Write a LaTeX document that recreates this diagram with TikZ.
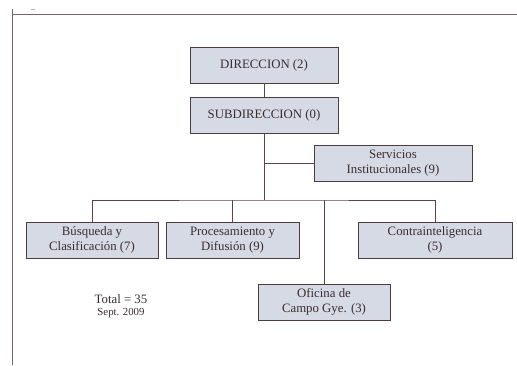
\documentclass[tikz,border=0pt]{standalone}
\usepackage{fontspec}
\setmainfont{Liberation Serif}
\definecolor{boxfill}{HTML}{D6DAE5}
\definecolor{boxline}{HTML}{4E3C40}
\definecolor{conline}{HTML}{5E424A}
\definecolor{frameline}{HTML}{7A636B}
\definecolor{txt}{HTML}{3A2C30}
\begin{document}
\begin{tikzpicture}[x=1pt,y=-1pt,
  unit/.style={draw=boxline, fill=boxfill, line width=0.9pt, rectangle, minimum height=36pt, inner sep=1pt, align=center, font=\fontsize{12.8}{14.3}\selectfont, text=txt},
  conn/.style={draw=conline, line width=0.9pt},
  note/.style={text=txt, inner sep=0pt}]
\useasboundingbox (0,0) rectangle (517,365);
% frame lines
\draw[frameline, line width=1pt] (12,9) -- (12,365);
\draw[frameline, line width=1pt] (12,14) -- (517,14);
\draw[gray!60, line width=0.6pt] (31,9) -- (35,9);
% nodes
\node[unit, minimum width=148pt] (dir) at (264,65) {DIRECCION (2)};
\node[unit, minimum width=148pt] (sub) at (264,115) {SUBDIRECCION (0)};
\node[unit, minimum width=158pt] (serv) at (393,163) {Servicios\\Institucionales (9)};
\node[unit, minimum width=132pt] (bus) at (92,240) {Búsqueda y\\Clasificación (7)};
\node[unit, minimum width=133pt] (proc) at (232.5,240) {Procesamiento y\\Difusión (9)};
\node[unit, minimum width=154pt] (contra) at (435,240) {Contrainteligencia\\(5)};
\node[unit, minimum width=132pt] (ofi) at (324,302) {Oficina de\\Campo Gye. (3)};
\node[note, font=\fontsize{12.8}{14}\selectfont] (total) at (121,299) {Total = 35};
\node[note, font=\fontsize{10.8}{12}\selectfont] (sept) at (121,313) {Sept. 2009};
\coordinate (j) at (264,200);
% connectors
\draw[conn] (dir) -- (sub);
\draw[conn] (sub) -- (j);
\draw[conn] (serv.west) -- (serv.west -| sub);
\draw[conn] (bus.north) |- (j) -| (contra.north);
\draw[conn] (proc.north) -- (proc.north |- j);
\draw[conn] (ofi.north) -- (ofi.north |- j);
\end{tikzpicture}
\end{document}
